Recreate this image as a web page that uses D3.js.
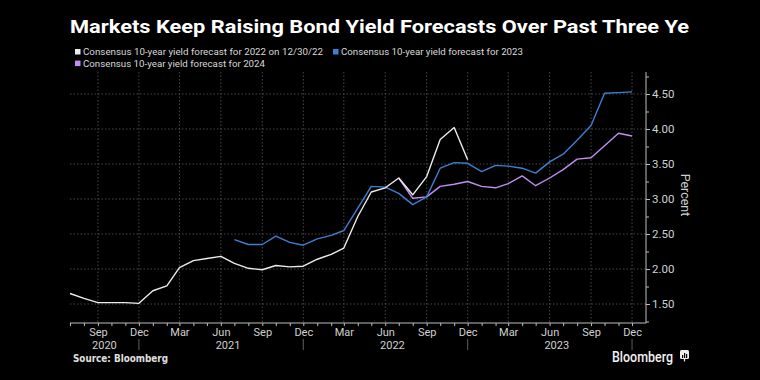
<!DOCTYPE html>
<html>
<head>
<meta charset="utf-8">
<script src="https://cdn.jsdelivr.net/npm/d3@7"></script>
<style>
  html, body { margin: 0; padding: 0; background: #000; }
  svg { display: block; }
</style>
</head>
<body>
<svg id="chart" width="760" height="380"></svg>
<script>
// ---- Data ----
const title = "Markets Keep Raising Bond Yield Forecasts Over Past Three Ye";
const seriesNames = [
  "Consensus 10-year yield forecast for 2022 on 12/30/22",
  "Consensus 10-year yield forecast for 2023",
  "Consensus 10-year yield forecast for 2024"
];
// monthly (first of month) observations
const start2022 = "2020-07";
const values2022 = [1.65, 1.58, 1.52, 1.52, 1.52, 1.51, 1.69, 1.76, 2.02, 2.12, 2.15, 2.18,
                    2.08, 2.01, 1.99, 2.05, 2.03, 2.04, 2.14, 2.21, 2.30, 2.75, 3.10, 3.16,
                    3.30, 3.06, 3.32, 3.85, 4.02, 3.56];
const start2023 = "2021-07";
const values2023 = [2.42, 2.35, 2.35, 2.47, 2.38, 2.34, 2.43, 2.48, 2.55, 2.87, 3.18, 3.17,
                    3.08, 2.92, 3.03, 3.44, 3.52, 3.51, 3.39, 3.48, 3.47, 3.44, 3.37, 3.53,
                    3.64, 3.84, 4.05, 4.51, 4.52, 4.53];
const start2024 = "2022-07";
const values2024 = [3.30, 3.01, 3.03, 3.18, 3.21, 3.25, 3.18, 3.16, 3.22, 3.33, 3.19, 3.30,
                    3.42, 3.57, 3.59, 3.76, 3.94, 3.90];
const yTicks = [1.5, 2.0, 2.5, 3.0, 3.5, 4.0, 4.5];
const xTickMonths = [2, 5, 8, 11]; // Mar, Jun, Sep, Dec
const yearLabels = [2020, 2021, 2022, 2023];
const yLabel = "Percent";
const sourceText = "Source: Bloomberg";
const colors = ["#ececec", "#3d80d2", "#c48ef0"];

// ---- Setup ----
const svg = d3.select("#chart");
const W = 760, H = 380;
const M = { left: 70, right: 646, top: 72, bottom: 323 };
const parse = d3.timeParse("%Y-%m");
function toSeries(startStr, vals) {
  const s = parse(startStr);
  return vals.map((v, i) => ({ date: d3.timeMonth.offset(s, i), value: v }));
}
const series = [toSeries(start2022, values2022), toSeries(start2023, values2023), toSeries(start2024, values2024)];

const x = d3.scaleTime()
  .domain([new Date(2020, 6, 1), new Date(2024, 0, 1)])
  .range([M.left, M.right]);
const y = d3.scaleLinear()
  .domain([1.229, 4.814])
  .range([M.bottom, M.top]);

svg.append("rect").attr("width", W).attr("height", H).attr("fill", "#000");

// Title
svg.append("text")
  .attr("x", 70).attr("y", 33)
  .attr("fill", "#fff")
  .attr("font-family", "Roboto, 'Liberation Sans', sans-serif")
  .attr("font-weight", "bold")
  .attr("font-size", 19)
  .attr("textLength", 619)
  .attr("lengthAdjust", "spacingAndGlyphs")
  .text(title);

// Legend
const labelFont = "Roboto, 'Liberation Sans', sans-serif";
const legendItems = [
  { name: seriesNames[0], color: colors[0], x: 75, y: 52, w: 240 },
  { name: seriesNames[1], color: colors[1], x: 333, y: 52, w: 182 },
  { name: seriesNames[2], color: colors[2], x: 75, y: 63.6, w: 182 }
];
const lg = svg.append("g");
legendItems.forEach(d => {
  lg.append("rect").attr("x", d.x).attr("y", d.y - 3).attr("width", 5.5).attr("height", 5.5).attr("fill", d.color);
  lg.append("text")
    .attr("x", d.x + 8).attr("y", d.y + 3.4)
    .attr("fill", "#d8d8d8")
    .attr("font-family", labelFont)
    .attr("font-size", 9.6)
    .attr("textLength", d.w)
    .attr("lengthAdjust", "spacingAndGlyphs")
    .text(d.name);
});

// Grid
const monthTicks = d3.timeMonth.range(x.domain()[0], x.domain()[1]);
const quarterTicks = monthTicks.filter(d => xTickMonths.includes(d.getMonth()));
const grid = svg.append("g");
grid.selectAll("line.v").data(quarterTicks).join("line")
  .attr("x1", d => x(d)).attr("x2", d => x(d))
  .attr("y1", M.top).attr("y2", M.bottom)
  .attr("stroke", "#5a5a5a").attr("stroke-width", 0.8).attr("stroke-dasharray", "1.5,2");
grid.selectAll("line.h").data(yTicks).join("line")
  .attr("x1", M.left).attr("x2", M.right)
  .attr("y1", d => y(d)).attr("y2", d => y(d))
  .attr("stroke", "#5a5a5a").attr("stroke-width", 0.8).attr("stroke-dasharray", "1.5,2");

// X axis
const axisColor = "#bdbdbd";
const xAxisG = svg.append("g").attr("transform", `translate(0,${M.bottom})`);
xAxisG.call(d3.axisBottom(x).tickValues(monthTicks).tickSize(3).tickFormat(""));
xAxisG.select(".domain").attr("stroke", axisColor).attr("d", `M${M.left},0H${M.right}`);
xAxisG.selectAll(".tick line").attr("stroke", axisColor);
const xLab = svg.append("g").attr("transform", `translate(0,${M.bottom})`);
xLab.call(d3.axisBottom(x).tickValues(quarterTicks).tickSize(0).tickPadding(12.5).tickFormat(d3.timeFormat("%b")));
xLab.select(".domain").remove();
xLab.selectAll("text").attr("fill", "#d0d0d0").attr("font-size", 11)
  .attr("font-family", labelFont).attr("dy", "0");
// Year separators at Dec
const decTicks = quarterTicks.filter(d => d.getMonth() === 11);
svg.selectAll("line.yearsep").data(decTicks).join("line")
  .attr("x1", d => x(d)).attr("x2", d => x(d))
  .attr("y1", M.bottom + 16).attr("y2", M.bottom + 27)
  .attr("stroke", "#777").attr("stroke-width", 0.8);
// Year labels centered in each year's visible span
svg.selectAll("text.year").data(yearLabels).join("text")
  .attr("x", d => {
    const a = d3.max([x.domain()[0], new Date(d, 0, 1)]);
    const b = d3.min([x.domain()[1], new Date(d + 1, 0, 1)]);
    return (x(a) + x(b)) / 2 - 7;
  })
  .attr("y", 348.5)
  .attr("text-anchor", "middle")
  .attr("fill", "#d0d0d0").attr("font-size", 11)
  .attr("font-family", labelFont)
  .text(d => d);

// Y axis right
const yMinor = d3.range(1.25, 4.76, 0.25);
const yAxisG = svg.append("g").attr("transform", `translate(${M.right},0)`);
yAxisG.call(d3.axisRight(y).tickValues(yMinor).tickSize(3).tickFormat(""));
yAxisG.select(".domain").attr("stroke", axisColor).attr("d", `M0,${M.top}V${M.bottom}`);
yAxisG.selectAll(".tick line").attr("stroke", axisColor);
const yLab = svg.append("g").attr("transform", `translate(${M.right},0)`);
yLab.call(d3.axisRight(y).tickValues(yTicks).tickSize(4).tickPadding(2).tickFormat(d3.format(".2f")));
yLab.select(".domain").remove();
yLab.selectAll(".tick line").attr("stroke", axisColor);
yLab.selectAll("text").attr("fill", "#d0d0d0").attr("font-size", 11.5)
  .attr("font-family", labelFont);

svg.append("text")
  .attr("transform", `translate(681,195) rotate(90)`)
  .attr("text-anchor", "middle")
  .attr("fill", "#d0d0d0").attr("font-size", 12.5)
  .attr("font-family", labelFont)
  .text(yLabel);

// Lines
const line = d3.line().x(d => x(d.date)).y(d => y(d.value));
// draw order: 2024 (purple), 2023 (blue), 2022 (white) on top
[2, 1, 0].forEach(i => {
  svg.append("path").datum(series[i])
    .attr("fill", "none")
    .attr("stroke", colors[i])
    .attr("stroke-width", 1.4)
    .attr("stroke-linejoin", "round")
    .attr("d", line);
});

// Footer
svg.append("text")
  .attr("x", 73).attr("y", 361.5)
  .attr("fill", "#e0e0e0").attr("font-weight", "bold").attr("font-size", 10)
  .attr("font-family", "'DejaVu Sans', sans-serif")
  .attr("textLength", 95).attr("lengthAdjust", "spacingAndGlyphs")
  .text(sourceText);
svg.append("text")
  .attr("x", 612).attr("y", 361.5)
  .attr("fill", "#f2f2f2").attr("font-weight", "500").attr("font-size", 14)
  .attr("font-family", "Roboto, 'Open Sans', sans-serif")
  .attr("textLength", 61).attr("lengthAdjust", "spacingAndGlyphs")
  .text("Bloomberg");
const icon = svg.append("g").attr("transform", "translate(680,350)");
icon.append("rect").attr("width", 9).attr("height", 9).attr("rx", 1.5).attr("fill", "#eee");
icon.append("path").attr("d", "M4.5,9 L4.5,11.5").attr("stroke", "#eee").attr("stroke-width", 1.2);
[[2, 5, 3], [4, 3, 5], [6, 4, 4]].forEach(([bx, by, bh]) =>
  icon.append("rect").attr("x", bx).attr("y", by).attr("width", 1.2).attr("height", bh).attr("fill", "#000"));
</script>
</body>
</html>
